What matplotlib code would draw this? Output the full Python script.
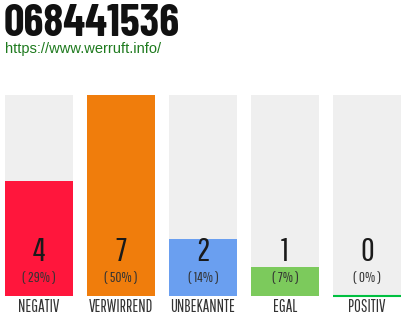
import matplotlib
matplotlib.use("Agg")
import matplotlib.pyplot as plt

title = "068441536"
url = "https://www.werruft.info/"
categories = ["NEGATIV", "VERWIRREND", "UNBEKANNTE", "EGAL", "POSITIV"]
counts = [4, 7, 2, 1, 0]
percents = ["( 29% )", "( 50% )", "( 14% )", "( 7% )", "( 0% )"]
colors = ["#ff163c", "#f07d0c", "#6a9ff0", "#7cca5c", "#00c040"]

thin = ["Pathway Gothic One", "DejaVu Sans"]

fig = plt.figure(figsize=(4.1, 3.2), dpi=100)
fig.text(4 / 410, 1 - 24 / 320, title, fontsize=32.5, fontweight=700,
         family=["Barlow Condensed", "DejaVu Sans"], color="#111111", va="center", ha="left")
fig.text(5 / 410, 1 - 49 / 320, url, fontsize=10.5, family=["Liberation Sans", "DejaVu Sans"],
         color="#1e7a1e", va="center", ha="left")

ax = fig.add_axes([5 / 410, 24 / 320, 396 / 410, 201 / 320])
top = max(counts)
x = range(len(categories))
w = 68 / 82
ax.bar(x, [top] * len(counts), width=w, color="#efefef")
ax.bar(x, counts, width=w, color=colors)
for i, c in enumerate(counts):
    if c == 0:
        ax.plot([i - w / 2, i + w / 2], [0, 0], color=colors[i], lw=1.5,
                solid_capstyle="butt", clip_on=False)
    ax.text(i, 0.219, str(c), transform=ax.get_xaxis_transform(), ha="center",
            va="center", fontsize=24, family=thin, color="#1a1a1a")
    ax.text(i, 0.09, percents[i], transform=ax.get_xaxis_transform(), ha="center",
            va="center", fontsize=10.5, family=thin, color="#333333")
    ax.text(i, -0.056, categories[i], transform=ax.get_xaxis_transform(), ha="center",
            va="center", fontsize=12, family=thin, color="#333333")
ax.set_xlim(-w / 2, len(counts) - 1 + w / 2)
ax.set_ylim(0, top)
ax.axis("off")

fig.savefig("out.png", dpi=100)
